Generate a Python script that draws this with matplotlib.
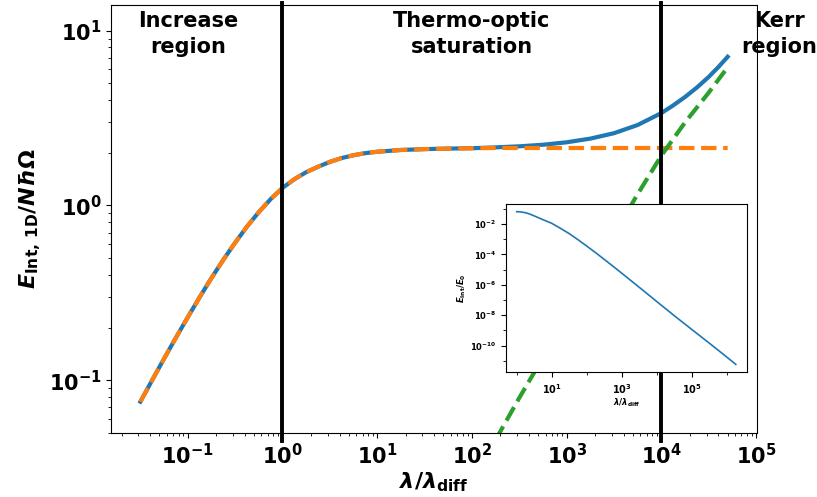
import numpy as np
import matplotlib
matplotlib.use('Agg')
import matplotlib.pyplot as plt
from matplotlib.patches import Rectangle
from matplotlib.ticker import FixedLocator, NullFormatter

plt.rcParams['font.weight'] = 'bold'
plt.rcParams['axes.labelweight'] = 'bold'
plt.rcParams['mathtext.fontset'] = 'custom'
plt.rcParams['mathtext.rm'] = 'DejaVu Sans:bold'
plt.rcParams['mathtext.it'] = 'DejaVu Sans:italic:bold'
plt.rcParams['mathtext.bf'] = 'DejaVu Sans:bold'

# main panel
lam = [0.0316, 0.0422, 0.0562, 0.075, 0.1, 0.1334, 0.1778, 0.2371, 0.3162,
       0.4217, 0.5623, 0.7499, 1.0, 1.334, 1.778, 2.371, 3.162, 4.217,
       5.623, 7.499, 10, 17.78, 31.62, 56.23, 100, 177.8, 316.2, 562.3,
       1000, 1778, 3162, 5623, 10000, 13335, 17783, 23714, 31623, 39811,
       50119]
e_total = [0.0755, 0.1005, 0.133, 0.1754, 0.2296, 0.2985, 0.3846, 0.4887,
           0.6124, 0.7568, 0.9162, 1.0864, 1.2589, 1.4125, 1.5488, 1.6634,
           1.7742, 1.8664, 1.9364, 1.9907, 2.0277, 2.0749, 2.0989, 2.1135,
           2.1232, 2.1478, 2.1777, 2.2233, 2.2961, 2.410, 2.588, 2.884,
           3.373, 3.733, 4.169, 4.721, 5.433, 6.166, 7.079]
e_thermo = [0.0755, 0.1005, 0.133, 0.1754, 0.2296, 0.2985, 0.3846, 0.4887,
            0.6124, 0.7568, 0.9162, 1.0864, 1.2589, 1.4125, 1.5488, 1.6634,
            1.7742, 1.8664, 1.9364, 1.9907, 2.0277, 2.0749, 2.0989, 2.1135,
            2.1232, 2.13, 2.13, 2.13, 2.13, 2.13, 2.13, 2.13, 2.13, 2.13,
            2.13, 2.13, 2.13, 2.13, 2.13]

lam_kerr = [177.8, 316.2, 562.3, 1000, 1778, 3162, 5623, 10000, 17783,
            31623, 50119]
e_kerr = [0.0457, 0.0794, 0.1349, 0.2317, 0.3981, 0.6839, 1.1614, 1.9275,
          2.9854, 4.4157, 6.166]

# inset
lam_in = [1, 1.334, 1.778, 2.371, 3.162, 5.623, 10, 17.78, 31.62, 56.23,
          100, 177.8, 316.2, 562.3, 1000, 3162, 10000, 31623, 1e5, 3.162e5,
          1e6, 1.738e6]
e_in = [6.46e-2, 6.17e-2, 5.50e-2, 4.47e-2, 3.39e-2, 1.91e-2, 1.10e-2,
        5.13e-3, 2.29e-3, 9.12e-4, 3.47e-4, 1.29e-4, 4.57e-5, 1.62e-5,
        5.62e-6, 6.61e-7, 7.59e-8, 8.91e-9, 1.10e-9, 1.38e-10, 1.66e-11,
        5.89e-12]

region_x = [0.1, 100, 1.75e5]
region_txt = ['Increase\nregion', 'Thermo-optic\nsaturation', 'Kerr\nregion']
bounds = [1, 1e4]

fig = plt.figure(figsize=(8.17, 4.97), dpi=100)
ax = fig.add_axes([0.1359, 0.1288, 0.7907, 0.8612])

ax.plot(lam, e_total, color='tab:blue', lw=3)
ax.plot(lam, e_thermo, '--', color='tab:orange', lw=3)
ax.plot(lam_kerr, e_kerr, '--', color='tab:green', lw=3)
for b in bounds:
    ax.axvline(b, ymin=-0.019, ymax=1.005, color='k', lw=2.8, clip_on=False)

ax.set_xscale('log')
ax.set_yscale('log')
ax.set_ylim(0.05, 14)
ax.tick_params(axis='both', which='major', labelsize=15)
ax.set_xlabel(r'$\lambda/\lambda_{\rm diff}$', fontsize=16, labelpad=2)
ax.set_ylabel(r'$E_{\rm Int,\,1D}/N\hbar\Omega$', fontsize=16)

for xt, t in zip(region_x[:2], region_txt[:2]):
    ax.text(xt, 12.9, t, ha='center', va='top', fontsize=15,
            fontweight='bold', linespacing=1.35)

# white patch over the top right corner, text on top
fig.add_artist(Rectangle((758 / 817, 1 - 71 / 497), 0.08, 0.15,
                         transform=fig.transFigure, facecolor='white',
                         edgecolor='none', zorder=5))
kx = ax.transData.transform((region_x[2], 12.9))
kx = fig.transFigure.inverted().transform(kx)
fig.text(kx[0], kx[1], region_txt[2], ha='center', va='top', fontsize=15,
         fontweight='bold', linespacing=1.35, zorder=6)

ins = fig.add_axes([0.619, 0.2515, 0.295, 0.338])
ins.plot(lam_in, e_in, color='tab:blue', lw=1.2)
ins.set_xscale('log')
ins.set_yscale('log')
ins.xaxis.set_major_locator(FixedLocator([1e1, 1e3, 1e5]))
ins.xaxis.set_minor_locator(FixedLocator([1e0, 1e2, 1e4, 1e6]))
ins.xaxis.set_minor_formatter(NullFormatter())
ins.yaxis.set_major_locator(FixedLocator([1e-10, 1e-8, 1e-6, 1e-4, 1e-2]))
ins.yaxis.set_minor_locator(FixedLocator([1e-11, 1e-9, 1e-7, 1e-5, 1e-3,
                                          1e-1]))
ins.yaxis.set_minor_formatter(NullFormatter())
ins.tick_params(axis='x', which='major', labelsize=7)
ins.tick_params(axis='y', which='major', labelsize=6)
ins.set_xlabel(r'$\lambda/\lambda_{\rm diff}$', fontsize=6, labelpad=1)
ins.set_ylabel(r'$E_{\rm Int}/E_0$', fontsize=6, labelpad=1)

fig.savefig('out.png', dpi=100)
